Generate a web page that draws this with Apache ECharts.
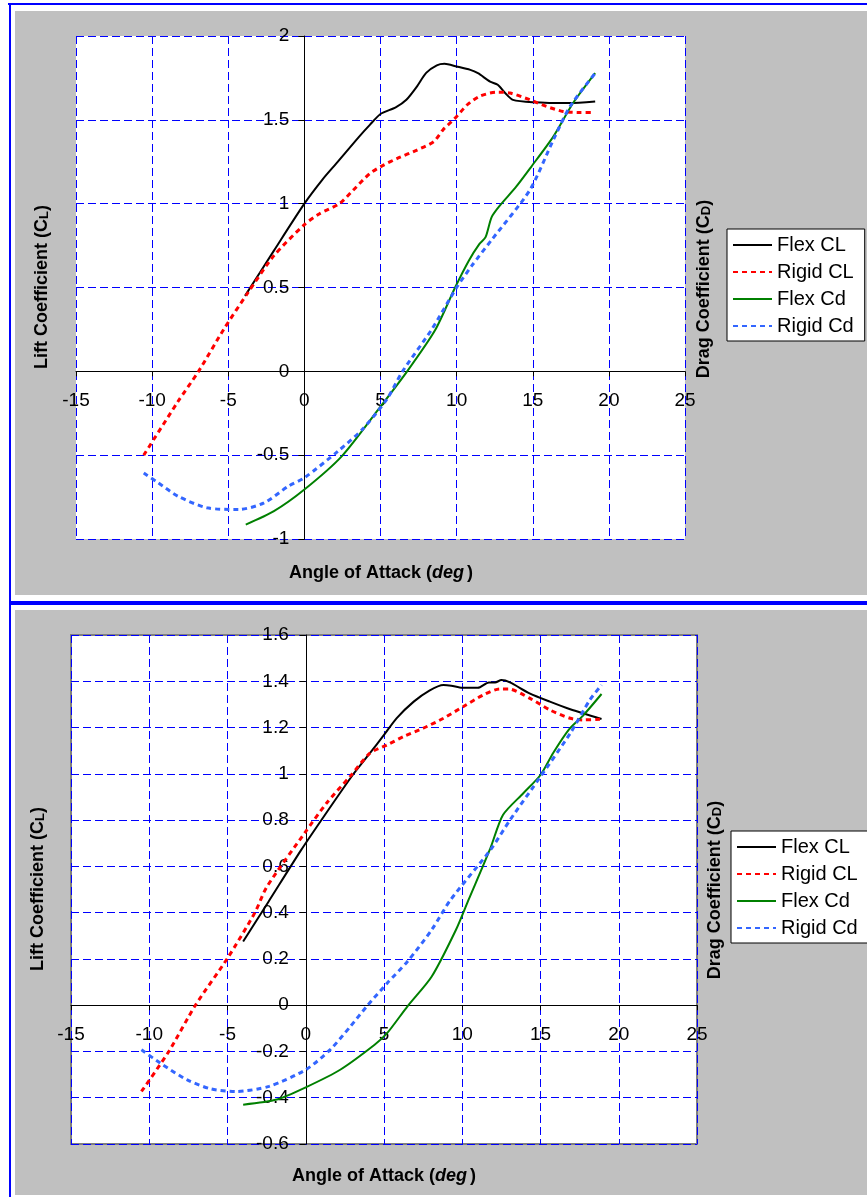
<!DOCTYPE html>
<html>
<head>
<meta charset="utf-8">
<script src="https://cdn.jsdelivr.net/npm/echarts@6/dist/echarts.min.js"></script>
<style>
html,body{margin:0;padding:0;background:#fff;}
#c{width:867px;height:1197px;}
</style>
</head>
<body>
<div id="c"></div>
<script>
// ---------- data (angle of attack in deg, coefficient) ----------
const seriesNames = ['Flex CL', 'Rigid CL', 'Flex Cd', 'Rigid Cd'];

const topFlexCL = [[-3.9,0.45],[-2,0.72],[0,1.0],[1.2,1.145],[2.1,1.24],[3.6,1.40],[4.3,1.47],[5.0,1.535],[6.0,1.575],[6.7,1.62],[7.4,1.70],[8.0,1.78],[8.7,1.825],[9.2,1.834],[10.0,1.818],[10.9,1.798],[11.4,1.778],[12.2,1.728],[12.7,1.709],[13.2,1.659],[13.7,1.619],[15.0,1.605],[17.4,1.60],[19.1,1.61]];
const topRigidCL = [[-10.55,-0.5],[-8.3,-0.18],[-6.95,0],[-5.3,0.25],[-3.7,0.47],[-2,0.69],[0,0.875],[1,0.94],[2.3,1.0],[3.2,1.08],[4.3,1.18],[5.2,1.23],[6.1,1.27],[7.4,1.32],[8.5,1.37],[9.1,1.44],[9.9,1.51],[10.7,1.59],[11.5,1.64],[12.6,1.665],[13.5,1.66],[14.8,1.62],[15.9,1.58],[17.0,1.55],[18.1,1.544],[19.0,1.544]];
const topFlexCd = [[-3.85,-0.914],[-2,-0.834],[0,-0.705],[2.45,-0.507],[4.85,-0.228],[6.75,0],[8.6,0.248],[9.9,0.5],[10.8,0.66],[11.5,0.76],[11.9,0.8],[12.3,0.92],[12.85,0.99],[13.9,1.10],[14.9,1.22],[16.35,1.40],[17.65,1.6],[19.1,1.778]];
const topRigidCd = [[-10.55,-0.606],[-9.6,-0.665],[-8.3,-0.745],[-6.4,-0.814],[-4.3,-0.824],[-2.65,-0.785],[-1.05,-0.685],[0,-0.635],[2.2,-0.477],[3.8,-0.347],[5.4,-0.169],[6.45,0],[8.35,0.248],[10,0.5],[11,0.63],[12.3,0.784],[14.8,1.08],[16.35,1.38],[17.45,1.58],[19.1,1.778]];

const botFlexCL = [[-4.0,0.275],[-2.4,0.445],[-0.3,0.67],[1.2,0.82],[3.0,0.995],[4.1,1.089],[5.0,1.168],[5.8,1.24],[6.9,1.312],[7.9,1.36],[8.8,1.384],[9.3,1.381],[10.0,1.372],[11.0,1.372],[11.7,1.395],[12.1,1.395],[12.5,1.405],[13.05,1.395],[14.3,1.348],[15.6,1.312],[16.9,1.279],[18.9,1.237]];
const botRigidCL = [[-10.5,-0.373],[-8.75,-0.2],[-7.05,0],[-5,0.203],[-3.25,0.40],[-2.5,0.51],[-0.05,0.746],[1.35,0.875],[2.85,0.99],[4.1,1.089],[5.2,1.125],[6.25,1.161],[7.5,1.197],[8.8,1.24],[10.05,1.29],[11.35,1.341],[12.4,1.367],[12.95,1.367],[14.3,1.327],[15.6,1.276],[16.9,1.24],[17.75,1.233],[18.8,1.236]];
const botFlexCd = [[-4.0,-0.43],[-1.85,-0.408],[0,-0.355],[2.2,-0.279],[4.4,-0.171],[5.2,-0.121],[6.5,-0.005],[8.05,0.124],[9.6,0.326],[10.4,0.455],[11.8,0.679],[12.6,0.822],[13.9,0.916],[15.0,0.995],[15.8,1.089],[16.8,1.19],[17.75,1.254],[18.9,1.345]];
const botRigidCd = [[-10.5,-0.193],[-9.15,-0.257],[-7.6,-0.322],[-6.05,-0.362],[-4.45,-0.373],[-2.35,-0.351],[0,-0.279],[1.55,-0.193],[2.85,-0.092],[3.9,-0.005],[5.2,0.095],[6.5,0.189],[8.05,0.326],[9.25,0.455],[11.8,0.671],[13.05,0.80],[15.0,0.988],[16.9,1.175],[18.15,1.319],[18.9,1.384]];

const xAxisRange = {min: -15, max: 25, interval: 5};
const topYRange = {min: -1, max: 2, interval: 0.5};
const botYRange = {min: -0.6, max: 1.6, interval: 0.2};

// ---------- layout ----------
const grids = [
  {left: 76, top: 36, width: 609, height: 503},
  {left: 71, top: 635, width: 626, height: 509}
];

// ---------- styles ----------
const FONT = 'Arial, "Liberation Sans", sans-serif';
const styles = {
  'Flex CL':  {color: '#000000', width: 2, type: 'solid'},
  'Rigid CL': {color: '#FF0000', width: 3, type: [5, 4]},
  'Flex Cd':  {color: '#008000', width: 2, type: 'solid'},
  'Rigid Cd': {color: '#3366FF', width: 3, type: [5, 4]}
};

function makeSeries(name, data, idx) {
  const s = styles[name];
  return {
    name: name, type: 'line', data: data, xAxisIndex: idx, yAxisIndex: idx,
    symbol: 'none', showSymbol: false, smooth: 0.25, z: 5,
    lineStyle: {color: s.color, width: s.width, type: s.type, cap: 'butt'},
    itemStyle: {color: s.color}
  };
}

// axes placed at the zero of the other axis (offset computed from ranges)
function xAxis(gridIndex, yr) {
  const g = grids[gridIndex];
  const off = -((0 - yr.min) / (yr.max - yr.min)) * g.height;
  return {
    type: 'value', gridIndex: gridIndex, position: 'bottom', offset: off,
    min: xAxisRange.min, max: xAxisRange.max, interval: xAxisRange.interval,
    axisLine: {onZero: false, lineStyle: {color: '#000', width: 1}},
    axisTick: {show: true, inside: false, length: 5, lineStyle: {color: '#000'}},
    axisLabel: {color: '#000', fontSize: 19, fontFamily: FONT, margin: 20},
    splitLine: {show: true, lineStyle: {color: '#0000FF', width: 1, type: [8, 4]}}
  };
}
function yAxis(gridIndex, r, margin) {
  const g = grids[gridIndex];
  const off = -((0 - xAxisRange.min) / (xAxisRange.max - xAxisRange.min)) * g.width;
  return {
    type: 'value', gridIndex: gridIndex, position: 'left', offset: off,
    min: r.min, max: r.max, interval: r.interval,
    axisLine: {onZero: false, lineStyle: {color: '#000', width: 1}},
    axisTick: {show: true, inside: false, length: 6, lineStyle: {color: '#000'}},
    axisLabel: {color: '#000', fontSize: 19, fontFamily: FONT, margin: margin},
    splitLine: {show: true, lineStyle: {color: '#0000FF', width: 1, type: [8, 4]}}
  };
}

function legend(left, top) {
  return {
    orient: 'vertical', left: left, top: top,
    data: seriesNames,
    backgroundColor: '#FFFFFF', borderColor: '#000000', borderWidth: 1, borderRadius: 0,
    padding: [6, 11, 5, 5], itemGap: 7, itemWidth: 39, itemHeight: 14,
    itemStyle: {opacity: 0},
    textStyle: {color: '#000', fontSize: 20, fontFamily: FONT},
    selectedMode: false
  };
}

function titleText(x, y, text, rot) {
  return {
    type: 'text', x: x, y: y, rotation: rot || 0, z: 20,
    style: {
      text: text, align: 'center', verticalAlign: 'middle', fill: '#000',
      fontFamily: FONT,
      rich: {
        b: {fontSize: 18, fontWeight: 'bold', fontFamily: FONT, fill: '#000'},
        i: {fontSize: 18, fontWeight: 'bold', fontStyle: 'italic', fontFamily: FONT, fill: '#000', padding: [0, 3, 0, 0]},
        s: {fontSize: 13, fontWeight: 'bold', fontFamily: FONT, fill: '#000', verticalAlign: 'bottom'}
      }
    }
  };
}

const chart = echarts.init(document.getElementById('c'), null, {renderer: 'canvas'});
const R = Math.PI / 2;
chart.setOption({
  animation: false,
  backgroundColor: '#FFFFFF',
  graphic: [
    {type: 'rect', z: -10, shape: {x: 8, y: 3, width: 859, height: 2}, style: {fill: '#0000FF'}},
    {type: 'rect', z: -10, shape: {x: 9, y: 3, width: 2, height: 1194}, style: {fill: '#0000FF'}},
    {type: 'rect', z: -10, shape: {x: 15, y: 11, width: 852, height: 584}, style: {fill: '#C0C0C0'}},
    {type: 'rect', z: -10, shape: {x: 9, y: 601, width: 858, height: 4}, style: {fill: '#0000FF'}},
    {type: 'rect', z: -10, shape: {x: 15, y: 610, width: 852, height: 585}, style: {fill: '#C0C0C0'}},
    titleText(381, 573, '{b|Angle of Attack (}{i|deg}{b|)}'),
    titleText(42, 287, '{b|Lift Coefficient (C}{s|L}{b|)}', R),
    titleText(704, 289, '{b|Drag Coefficient (C}{s|D}{b|)}', R),
    titleText(384, 1176, '{b|Angle of Attack (}{i|deg}{b|)}'),
    titleText(38, 889, '{b|Lift Coefficient (C}{s|L}{b|)}', R),
    titleText(715, 890, '{b|Drag Coefficient (C}{s|D}{b|)}', R)
  ],
  grid: [
    Object.assign({show: true, backgroundColor: '#FFFFFF', borderWidth: 0, containLabel: false}, grids[0]),
    Object.assign({show: true, backgroundColor: '#FFFFFF', borderColor: '#808080', borderWidth: 2, containLabel: false}, grids[1])
  ],
  xAxis: [xAxis(0, topYRange), xAxis(1, botYRange)],
  yAxis: [yAxis(0, topYRange, 15), yAxis(1, botYRange, 17)],
  legend: [legend(727, 229), legend(731, 831)],
  series: [
    makeSeries('Flex CL', topFlexCL, 0),
    makeSeries('Rigid CL', topRigidCL, 0),
    makeSeries('Flex Cd', topFlexCd, 0),
    makeSeries('Rigid Cd', topRigidCd, 0),
    makeSeries('Flex CL', botFlexCL, 1),
    makeSeries('Rigid CL', botRigidCL, 1),
    makeSeries('Flex Cd', botFlexCd, 1),
    makeSeries('Rigid Cd', botRigidCd, 1)
  ]
});
</script>
</body>
</html>
